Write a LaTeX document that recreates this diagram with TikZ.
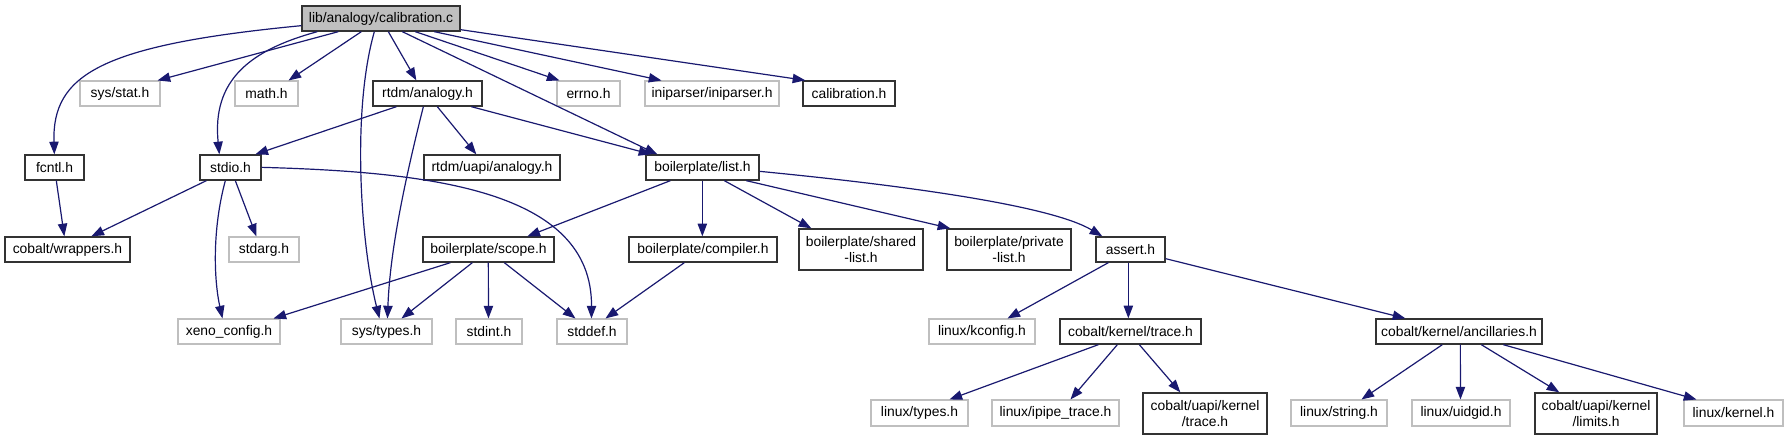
\documentclass[tikz,border=0pt]{standalone}
\usepackage{fontspec}
\setmainfont{Liberation Sans}
\usetikzlibrary{arrows.meta,calc}
\definecolor{edgecol}{HTML}{191970}
\definecolor{gborder}{HTML}{BFBFBF}
\definecolor{bborder}{HTML}{333333}
\definecolor{rootfill}{HTML}{BFBFBF}
\newcommand{\mkbox}[7]{\node[#6, minimum width={(#3-#2)*0.75pt}, minimum height={(#5-#4)*0.75pt}] (#1) at ({(#2+#3)/2},{(#4+#5)/2}) {#7};}
\tikzset{
  nd/.style={draw=bborder, line width=1pt, fill=white, inner sep=0pt, align=center, font=\fontsize{10.4}{11.4}\selectfont},
  gnd/.style={nd, draw=gborder, line width=0.8pt},
  rootnd/.style={nd, fill=rootfill},
  edge/.style={draw=edgecol, line width=0.9pt, -{Triangle[length=9.5pt,width=7pt]}}
}
\begin{document}
\begin{tikzpicture}[x=0.75pt,y=-0.75pt]
\fill[white] (0,0) rectangle (1788,440);
\useasboundingbox (0,0) rectangle (1788,440);
% row A
\mkbox{calib}{302}{460}{6}{31}{rootnd}{lib/analogy/calibration.c}
% row B
\mkbox{sysstat}{80}{160}{81}{106}{gnd}{sys/stat.h}
\mkbox{math}{235}{298}{81}{106}{gnd}{math.h}
\mkbox{rtdm}{373}{482}{81}{106}{nd}{rtdm/analogy.h}
\mkbox{errno}{557}{620}{81}{106}{gnd}{errno.h}
\mkbox{inip}{645}{779}{81}{106}{gnd}{iniparser/iniparser.h}
\mkbox{calh}{803}{895}{81}{106}{nd}{calibration.h}
% row C
\mkbox{fcntl}{25}{84}{155}{180}{nd}{fcntl.h}
\mkbox{stdio}{200}{261}{155}{180}{nd}{stdio.h}
\mkbox{uapi}{424}{560}{155}{180}{nd}{rtdm/uapi/analogy.h}
\mkbox{list}{646}{759}{155}{180}{nd}{boilerplate/list.h}
% row D
\mkbox{wrap}{5}{130}{237}{262}{nd}{cobalt/wrappers.h}
\mkbox{stdarg}{229}{299}{237}{262}{gnd}{stdarg.h}
\mkbox{scope}{423}{554}{237}{262}{nd}{boilerplate/scope.h}
\mkbox{comp}{629}{777}{237}{262}{nd}{boilerplate/compiler.h}
\mkbox{shared}{799}{923}{229}{270}{nd}{boilerplate/shared\\-list.h}
\mkbox{private}{947}{1071}{229}{270}{nd}{boilerplate/private\\-list.h}
\mkbox{assert}{1096}{1165}{237}{262}{nd}{assert.h}
% row E
\mkbox{xeno}{178}{280}{319}{344}{gnd}{xeno\_config.h}
\mkbox{systypes}{341}{432}{319}{344}{gnd}{sys/types.h}
\mkbox{stdint}{456}{522}{319}{344}{gnd}{stdint.h}
\mkbox{stddef}{557}{627}{319}{344}{gnd}{stddef.h}
\mkbox{kconfig}{929}{1035}{319}{344}{gnd}{linux/kconfig.h}
\mkbox{ktrace}{1060}{1201}{319}{344}{nd}{cobalt/kernel/trace.h}
\mkbox{anc}{1376}{1542}{319}{344}{nd}{cobalt/kernel/ancillaries.h}
% row F
\mkbox{ltypes}{871}{968}{400}{426}{gnd}{linux/types.h}
\mkbox{ipipe}{992}{1119}{400}{426}{gnd}{linux/ipipe\_trace.h}
\mkbox{utrace}{1143}{1267}{393}{434}{nd}{cobalt/uapi/kernel\\/trace.h}
\mkbox{lstring}{1291}{1387}{400}{426}{gnd}{linux/string.h}
\mkbox{uidgid}{1412}{1510}{400}{426}{gnd}{linux/uidgid.h}
\mkbox{limits}{1535}{1657}{393}{434}{nd}{cobalt/uapi/kernel\\/limits.h}
\mkbox{lkernel}{1684}{1783}{400}{426}{gnd}{linux/kernel.h}
% edges from calibration.c
\draw[edge] ($(calib.south west)+(0,-6)$) .. controls (100,45) and (52,75) .. ($(fcntl.north west)+(30,0)$);
\draw[edge] ($(calib.south west)+(37,0)$) -- ($(sysstat.north east)+(-3,0)$);
\draw[edge] ($(calib.south west)+(60,0)$) -- ($(math.north east)+(-10,0)$);
\draw[edge] ($(calib.south west)+(16,0)$) .. controls (250,50) and (212,80) .. ($(stdio.north west)+(20,0)$);
\draw[edge] ($(calib.south west)+(73,0)$) .. controls (352,110) and (360,240) .. ($(systypes.north west)+(39,0)$);
\draw[edge] ($(calib.south west)+(87,0)$) -- ($(rtdm.north west)+(44,0)$);
\draw[edge] ($(calib.south west)+(101,0)$) -- ($(list.north west)+(12,0)$);
\draw[edge] ($(calib.south west)+(114,0)$) -- ($(errno.north west)+(3,0)$);
\draw[edge] ($(calib.south west)+(133,0)$) -- ($(inip.north west)+(17,0)$);
\draw[edge] ($(calib.south east)+(0,-2)$) -- ($(calh.north west)+(3,0)$);
% rtdm/analogy.h
\draw[edge] ($(rtdm.south west)+(24,0)$) -- ($(stdio.north west)+(56,0)$);
\draw[edge] ($(rtdm.south west)+(51,0)$) .. controls (405,180) and (390,250) .. ($(systypes.north west)+(47,0)$);
\draw[edge] ($(rtdm.south west)+(65,0)$) -- ($(uapi.north west)+(53,0)$);
\draw[edge] ($(rtdm.south west)+(99,0)$) -- ($(list.north west)+(6,0)$);
% fcntl, stdio
\draw[edge] ($(fcntl.south west)+(32,0)$) -- ($(wrap.north west)+(60,0)$);
\draw[edge] ($(stdio.south west)+(7,0)$) -- ($(wrap.north west)+(87,0)$);
\draw[edge] ($(stdio.south west)+(26,0)$) .. controls (212,230) and (214,280) .. ($(xeno.north west)+(45,0)$);
\draw[edge] ($(stdio.south west)+(36,0)$) -- ($(stdarg.north west)+(28,0)$);
\draw[edge] ($(stdio.north east)+(0,13)$) .. controls (430,172) and (592,190) .. ($(stddef.north west)+(35,0)$);
% boilerplate/list.h
\draw[edge] ($(list.south west)+(25,0)$) -- ($(scope.north west)+(105,0)$);
\draw[edge] ($(list.south west)+(57,0)$) -- ($(comp.north west)+(74,0)$);
\draw[edge] ($(list.south west)+(79,0)$) -- ($(shared.north west)+(13,0)$);
\draw[edge] ($(list.south west)+(101,0)$) -- ($(private.north west)+(4,0)$);
\draw[edge] ($(list.north east)+(0,17)$) .. controls (900,185) and (1050,205) .. ($(assert.north west)+(7,0)$);
% scope, compiler
\draw[edge] ($(scope.south west)+(28,0)$) -- ($(xeno.north west)+(96,0)$);
\draw[edge] ($(scope.south west)+(50,0)$) -- ($(systypes.north west)+(61,0)$);
\draw[edge] ($(scope.south west)+(66,0)$) -- ($(stdint.north west)+(33,0)$);
\draw[edge] ($(scope.south west)+(82,0)$) -- ($(stddef.north west)+(19,0)$);
\draw[edge] ($(comp.south west)+(56,0)$) -- ($(stddef.north west)+(49,0)$);
% assert
\draw[edge] ($(assert.south west)+(13,0)$) -- ($(kconfig.north west)+(79,0)$);
\draw[edge] ($(assert.south west)+(33,0)$) -- ($(ktrace.north west)+(69,0)$);
\draw[edge] ($(assert.south east)+(0,-4)$) -- ($(anc.north west)+(30,0)$);
% cobalt/kernel/trace.h
\draw[edge] ($(ktrace.south west)+(39,0)$) -- ($(ltypes.north west)+(79,0)$);
\draw[edge] ($(ktrace.south west)+(58,0)$) -- ($(ipipe.north west)+(79,0)$);
\draw[edge] ($(ktrace.south west)+(80,0)$) -- ($(utrace.north west)+(38,0)$);
% cobalt/kernel/ancillaries.h
\draw[edge] ($(anc.south west)+(67,0)$) -- ($(lstring.north west)+(71,0)$);
\draw[edge] ($(anc.south west)+(85,0)$) -- ($(uidgid.north west)+(49,0)$);
\draw[edge] ($(anc.south west)+(106,0)$) -- ($(limits.north west)+(25,0)$);
\draw[edge] ($(anc.south west)+(128,0)$) -- ($(lkernel.north west)+(13,0)$);
\end{tikzpicture}
\end{document}
